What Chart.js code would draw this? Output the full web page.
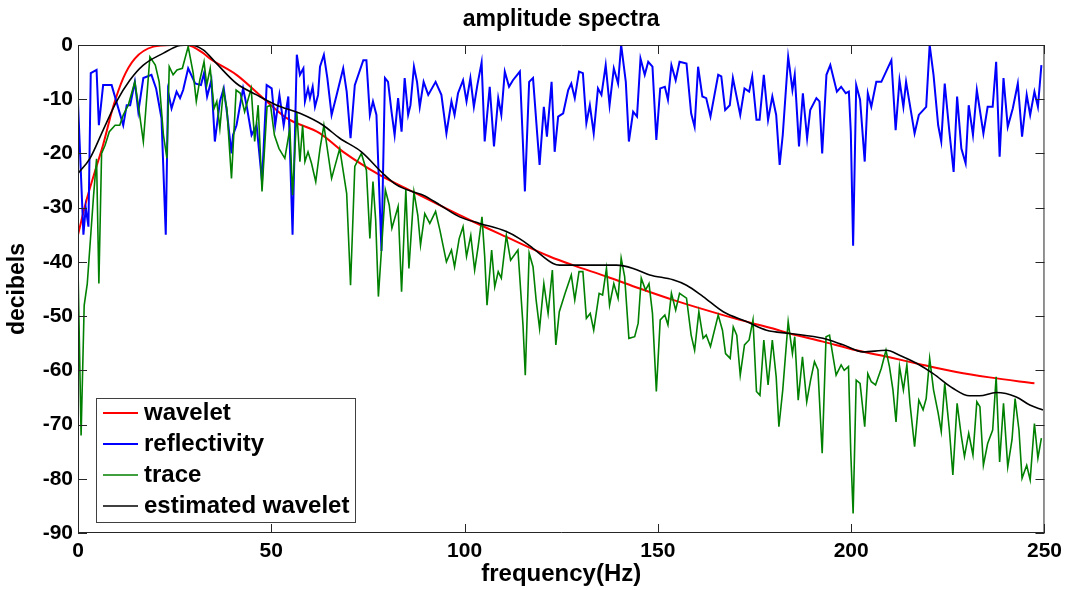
<!DOCTYPE html>
<html>
<head>
<meta charset="utf-8">
<style>
  html, body { margin: 0; padding: 0; background: #fff; }
</style>
<script src="https://cdn.jsdelivr.net/npm/chart.js@4.4.0/dist/chart.umd.min.js"></script>
</head>
<body>
<canvas id="grafico" width="1068" height="590"></canvas>
<script>
// eixos
const ticksX = [0, 50, 100, 150, 200, 250];
const ticksY = [-90, -80, -70, -60, -50, -40, -30, -20, -10, 0];
const titulo = 'amplitude spectra';

// wavelet (vermelho)
const waveletFreq = [0, 2.2, 4.3, 6.5, 9.1, 11.7, 14.7, 19.5, 24, 28.1, 32.4, 34.1, 41, 47.9, 54, 62.6, 68.6, 78.1, 86.7, 100.5, 110.8, 122, 128, 136.7, 145.3, 153.9, 162.5, 171.2, 179.8, 184.1, 192.7, 201.3, 209.9, 218.6, 227.2, 235.8, 247.4];
const waveletDb = [-35, -28.6, -23.5, -18.4, -11.4, -6.1, -2.5, -0.3, 0, 0, -1.5, -2.5, -5.5, -9.8, -13.5, -16.3, -19.7, -24, -27.1, -32, -35.4, -39.0, -40.6, -42.7, -44.9, -47, -48.9, -50.7, -52.3, -53.2, -54.7, -56.3, -57.6, -59, -60.3, -61.3, -62.4];

// reflectivity (azul)
const reflFreq = [0, 1.4, 2.0, 2.7, 3.3, 4.8, 5.4, 6.5, 8.7, 11.7, 12.6, 13.5, 14.7, 15.6, 16.9, 19.0, 20.2, 21.6, 22.7, 23.3, 24.2, 25.5, 26.4, 27.2, 28.5, 30.3, 31.8, 32.6, 33.4, 34.5, 35.4, 36.7, 37.7, 38.6, 39.7, 40.1, 41.0, 42.7, 43.6, 44.9, 46.2, 47.6, 48.8, 50.1, 51.0, 52.1, 53.2, 54.4, 55.5, 56.6,
  57.4, 58.3, 58.7, 59.5, 60.0, 60.7, 61.3, 62.1, 62.6, 63.6, 64.5, 65.6, 66.9, 68.6, 69.5, 70.5, 71.6, 73.8, 74.6, 75.5, 76.3, 77.2, 78.5, 79.4, 80.2, 81.1, 81.9, 82.8, 83.7, 84.5, 85.4, 86.0, 86.9, 87.7, 88.4, 89.4, 90.6, 92.5, 94.0, 95.3, 96.6, 97.4, 98.3, 99.6,
  100.5, 101.5, 102.4, 103.3, 104.4, 105.2, 106.5, 107.6, 108.7, 109.5, 110.4, 111.5, 112.5, 114.3, 115.0, 115.6, 116.7, 117.7, 118.8, 119.4, 120.5, 121.3, 122.5, 123.3, 124.2, 125.5, 126.8, 127.6, 128.5, 129.6, 130.6, 131.5, 132.4, 133.4, 134.5, 135.4, 136.5, 137.5, 138.6, 139.7,
  140.5, 141.7, 142.5, 143.6, 144.6, 145.5, 146.6, 147.5, 148.6, 149.6, 150.6, 151.8, 152.6, 153.5, 154.6, 155.6, 157.4, 158.6, 159.5, 160.4, 161.5, 162.5, 163.6, 165.6, 166.4, 167.4, 168.6, 169.4, 171.3, 172.4, 173.6, 174.4, 175.5, 176.3, 177.4, 178.5, 179.6, 180.6, 181.5, 182.3, 183.7,
  184.1, 184.8, 185.4, 186.5, 187.5, 188.6, 189.4, 191.0, 191.8, 192.5, 193.6, 194.6, 196.3, 197.4, 198.6, 199.4, 199.9, 200.5, 201.3, 202.3, 203.5, 204.3, 205.2, 206.5, 207.8, 210.4, 211.5, 212.5, 213.5, 214.2, 216.4, 217.5, 219.4, 220.3, 221.3, 222.5, 223.3, 224.2, 225.4, 226.5,
  227.4, 228.5, 229.6, 230.4, 231.5, 232.5, 234.2, 235.3, 236.6, 237.5, 238.4, 239.4, 240.5, 241.8, 243.1, 244.2, 245.4, 246.3, 247.4, 248.3, 249.2];
const reflDb = [-10.5, -35, -30, -33.5, -5.2, -4.6, -14.8, -7.4, -7.4, -14.8, -11.1, -11.1, -6.8, -12.3, -6.1, -5.5, -8.0, -13.5, -35, -8.6, -11.7, -8.6, -9.8, -8.3, -4.3, -7.1, -7.4, -5.2, -9.5, -6.5, -17.8, -10.4, -8.0, -12.9, -20, -16.6, -14.8, -8.0, -11.1, -16.6, -14.8, -25.2, -7.4, -8.0, -14.8, -9.2, -14.8, -9.5, -35, -1.8,
  -5.5, -4.3, -10.4, -8.0, -9.8, -7.7, -11.4, -9.2, -4.0, -1.8, -6.1, -12.9, -9.2, -4.3, -8.6, -17.2, -7.4, -2.8, -2.8, -12.9, -10.4, -12.9, -38, -6.1, -6.8, -12.3, -16.6, -9.8, -16.0, -6.1, -12.9, -11.1, -4.0, -6.8, -11.4, -6.8, -9.2, -6.8, -9.2, -16.3, -10.4, -12.9, -8.9, -6.5,
  -10.4, -6.1, -11.4, -7.4, -3.2, -17.8, -7.7, -18.7, -9.8, -12.9, -4.9, -7.7, -6.5, -4.9, -16.6, -27, -6.8, -6.1, -16.6, -22.1, -11.4, -16.9, -6.8, -19.7, -13.2, -12.6, -8.3, -7.1, -9.8, -4.9, -5.2, -14.4, -11.1, -16.3, -8.0, -9.2, -3.7, -11.1, -4.3, -7.1,
  0, -6.8, -17.8, -12.3, -13.2, -2.5, -5.5, -3.1, -4.0, -17.5, -8.0, -7.7, -10.1, -3.7, -6.5, -3.1, -3.4, -12.6, -15.1, -4.0, -9.5, -9.8, -13.2, -5.5, -5.8, -12.0, -11.1, -6.1, -12.9, -8.0, -8.6, -5.8, -13.8, -13.8, -5.5, -13.8, -9.5, -12.9, -22.1, -16.6, -2.2,
  -4.3, -8.3, -5.5, -18.7, -8.9, -17.2, -12.0, -9.8, -10.4, -20, -5.5, -3.7, -8.6, -7.7, -8.9, -8.6, -16, -37, -7.4, -10.1, -21.5, -8.9, -11.4, -6.8, -6.8, -2.8, -15.7, -6.5, -11.4, -6.8, -16.3, -12.9, -11.4, 0, -5.5, -14.8, -17.8, -7.1, -16, -23.4,
  -9.5, -19.1, -21.8, -11.1, -16.6, -8.3, -16.3, -11.4, -11.4, -3.1, -20.6, -6.1, -15.1, -11.7, -7.1, -16.9, -9.2, -12.9, -8.6, -11.4, -3.7];

// trace (verde)
const traceFreq = [0, 0.8, 1.6, 2.4, 3.2, 4.0, 4.8, 5.4, 6.1, 7.0, 8.1, 9.6, 10.8, 11.7, 13.0, 14.7, 15.6, 16.9, 18.6, 20.0, 21.0, 22.1, 23.0, 23.6, 24.6, 25.6, 27.0, 28.5, 29.8, 30.6, 31.5, 32.6, 33.3, 34.2, 35.2, 35.9, 36.7, 37.6, 38.5, 39.7, 40.9, 42.0, 43.1, 44.8, 45.7, 46.6, 47.6, 48.9, 49.8, 50.8, 52.0, 53.5, 54.8, 55.5, 56.6,
  57.4, 58.1, 58.7, 59.5, 60.4, 61.5, 62.6, 63.6, 65.6, 67.7, 69.5, 70.5, 71.6, 73.3, 74.6, 75.5, 76.3, 77.0, 77.7, 78.6, 79.5, 80.5, 81.2, 82.8, 83.7, 84.8, 85.6, 86.9, 87.9, 88.6, 89.7, 91.0, 92.5, 93.6, 95.3, 96.6, 97.4, 98.6, 99.6,
  100.5, 101.6, 102.6, 103.5, 104.5, 105.2, 105.8, 107.0, 107.8, 108.7, 109.5, 110.8, 111.9, 113.8, 115.1, 115.7, 116.7, 117.7, 118.5, 119.4, 120.5, 121.6, 122.7, 123.6, 124.5, 126.0, 127.6, 128.5, 129.6, 130.6, 131.5, 132.5, 133.4, 134.8, 135.7, 136.7, 137.5, 138.6, 139.7,
  140.5, 141.4, 142.5, 144.0, 144.9, 145.7, 146.8, 147.7, 148.6, 149.6, 150.6, 151.8, 152.6, 153.5, 154.6, 155.6, 157.4, 158.6, 159.5, 160.6, 161.7, 162.5, 163.6, 165.6, 166.7, 167.5, 168.7, 169.5, 170.4, 171.3, 172.4, 173.6, 174.6, 175.5, 176.4, 177.4, 178.5, 179.6, 180.6, 181.3, 182.3, 183.7,
  184.8, 185.4, 186.3, 187.4, 188.5, 189.5, 190.5, 191.4, 192.5, 193.5, 194.4, 196.1, 197.4, 198.2, 199.3, 199.9, 200.5, 201.3, 202.3, 203.5, 204.3, 205.2, 206.3, 207.8, 209.0, 209.9, 210.8, 211.6, 212.5, 213.5, 214.4, 215.2, 216.4, 217.5, 218.6, 219.4,
  220.3, 221.3, 222.5, 223.3, 224.2, 225.4, 226.3, 227.4, 228.5, 229.3, 230.4, 231.5, 232.5, 233.3, 234.2, 235.3, 236.6, 237.5, 238.4, 239.4, 240.5, 241.6, 242.4, 243.4, 244.2, 245.4, 246.3, 247.4, 248.3, 249.2];
const traceDb = [-41, -72, -48, -44, -36, -28, -21, -44, -20, -18.5, -16, -14.8, -14.8, -12.9, -11.1, -6.8, -11.1, -17.8, -2.2, -3.7, -6.8, -16.6, -20.9, -4.0, -5.5, -4.6, -4.3, -0.3, -5.2, -10.4, -6.5, -3.1, -7.4, -4.3, -11.7, -10.4, -15.4, -8.3, -11.7, -24.6, -8.3, -8.9, -12.3, -8.0, -17.8, -11.1, -27, -11.4, -11.1, -16.6, -19.1, -20.9, -15.4, -27.7, -12.3,
  -21.5, -14.8, -21.5, -19.7, -21.8, -25.2, -19.1, -14.8, -24.6, -19.1, -27.4, -44.3, -22.4, -20, -23.1, -35.7, -25.2, -32.3, -46.4, -36.6, -26.7, -29.5, -33.8, -29.8, -45.5, -26.7, -41.2, -27.1, -31.4, -36.9, -31.1, -32.9, -30.7, -34.1, -40, -37.8, -40.9, -35.7, -33.5,
  -39, -35.1, -41.5, -37.2, -31.7, -39, -48, -37.8, -44.6, -41.8, -43, -35.1, -39.7, -37.8, -51.6, -60.9, -38.4, -40.9, -47, -52.3, -44, -49.5, -41.5, -55.3, -49.2, -45.8, -42.4, -47, -41.8, -41.8, -50.4, -49.5, -52.6, -45.8, -46.1, -41.2, -48, -44, -46.7,
  -39.3, -42.7, -54.1, -53.8, -51.3, -43, -45.2, -44, -49.5, -63.9, -50.7, -49.8, -51.6, -45.8, -48.9, -45.8, -46.7, -53.5, -56.3, -49.2, -54.1, -53.5, -55.6, -49.8, -52.6, -56.9, -57.8, -52, -53.5, -60.9, -55.3, -54.4, -50.7, -63.9, -64.6, -54.4, -62.7, -54.4, -61.2, -70.4, -63.6, -51,
  -56.9, -53.8, -65.5, -57.5, -65.8, -61.8, -58.4, -59.9, -75.3, -53.8, -53.5, -60.9, -59, -60, -59.3, -75.3, -86.4, -61.8, -62.4, -70.4, -60.6, -62.1, -62.7, -59.6, -56.3, -59.3, -63.6, -69.5, -59.3, -63.6, -59, -66.1, -74.1, -65.5, -67.3, -65.2,
  -57.8, -63.6, -67.9, -71.3, -62.4, -71, -79.3, -66.1, -72.2, -75.9, -71.6, -75.6, -65.8, -66.7, -77.5, -73.5, -71, -61.2, -76.9, -66.1, -77.8, -72.8, -65.2, -71, -79.9, -77.5, -80.2, -69.8, -76.2, -72.5];

// estimated wavelet (preto)
const estFreq = [0, 3.1, 6.5, 10, 13.4, 16.9, 22.1, 26.4, 29, 32.4, 35.8, 41, 46.2, 51.4, 57.4, 63.4, 67.7, 73.3, 78.9, 82.4, 86.7, 89.3, 93.6, 98.7, 103.9, 110.8, 114.2, 117.7, 122.9, 124.6, 139.3, 143.6, 147.9, 153.9, 157.4, 161.7, 166.9, 172.9, 178.1, 184.1, 192.7, 197.9, 203.1, 209.1, 212.5, 216.9, 221.2, 226.3, 230.6, 233.2, 237.5, 242.7, 246.2, 249.6];
const estDb = [-23.7, -20.9, -15.7, -10.4, -6.5, -3.7, -1.5, -0.1, 0, -0.9, -3.4, -7.1, -9.2, -11.1, -12.6, -14.8, -17.2, -19.7, -23.7, -25.8, -27.1, -27.7, -29.5, -31.7, -32.9, -34.4, -35.7, -37.5, -40.3, -40.6, -40.6, -41.2, -42.4, -43.3, -44.3, -46.4, -49.2, -51, -52.6, -53.2, -54.1, -55.3, -56.6, -56.3, -57.2, -58.7, -60.6, -63.3, -64.7, -64.7, -64.1, -64.9, -66.4, -67.3];

const fonte = "'Liberation Sans', Arial, sans-serif";

function pares(xs, ys) {
    return xs.map((f, i) => ({ x: f, y: ys[i] }));
}

// moldura com ticks para dentro, estilo matlab
const molduraPlugin = {
    id: 'moldura',
    afterDatasetsDraw(chart) {
        const { ctx, chartArea: a, scales } = chart;
        const tam = 9;
        ctx.save();
        ctx.strokeStyle = '#262626';
        ctx.lineWidth = 1;
        ctx.beginPath();
        ctx.rect(a.left + 0.5, a.top + 0.5, a.right - a.left - 1, a.bottom - a.top - 1);
        ticksX.forEach(v => {
            const px = Math.round(scales.x.getPixelForValue(v)) + 0.5;
            ctx.moveTo(px, a.bottom); ctx.lineTo(px, a.bottom - tam);
            ctx.moveTo(px, a.top); ctx.lineTo(px, a.top + tam);
        });
        ticksY.forEach(v => {
            const py = Math.round(scales.y.getPixelForValue(v)) + 0.5;
            ctx.moveTo(a.left, py); ctx.lineTo(a.left + tam, py);
            ctx.moveTo(a.right, py); ctx.lineTo(a.right - tam, py);
        });
        ctx.stroke();
        ctx.restore();
    }
};

// titulo centrado sobre a area do grafico
const tituloPlugin = {
    id: 'tituloCentro',
    afterDraw(chart) {
        const { ctx, chartArea: a } = chart;
        ctx.save();
        ctx.font = 'bold 23px ' + fonte;
        ctx.fillStyle = '#000';
        ctx.textAlign = 'center';
        ctx.textBaseline = 'middle';
        ctx.fillText(titulo, (a.left + a.right) / 2, 20);
        ctx.restore();
    }
};

// legenda dentro da area do grafico, canto inferior esquerdo
const legendaPlugin = {
    id: 'legendaInterna',
    afterDraw(chart) {
        const { ctx, chartArea: a } = chart;
        const x0 = a.left + 18, y0 = a.bottom - 135, w = 259, h = 124;
        ctx.save();
        ctx.fillStyle = '#fff';
        ctx.fillRect(x0, y0, w, h);
        ctx.strokeStyle = '#404040';
        ctx.lineWidth = 1;
        ctx.strokeRect(x0 + 0.5, y0 + 0.5, w, h);
        ctx.font = 'bold 24px ' + fonte;
        ctx.textBaseline = 'middle';
        ctx.textAlign = 'left';
        chart.data.datasets.forEach((ds, i) => {
            const yy = y0 + 15 + i * 31;
            ctx.strokeStyle = ds.borderColor;
            ctx.lineWidth = ds.borderWidth;
            ctx.beginPath();
            ctx.moveTo(x0 + 7, yy); ctx.lineTo(x0 + 42, yy);
            ctx.stroke();
            ctx.fillStyle = '#000';
            ctx.fillText(ds.label, x0 + 48, yy);
        });
        ctx.restore();
    }
};

const ctx = document.getElementById('grafico').getContext('2d');
Chart.defaults.color = '#000';

new Chart(ctx, {
    type: 'line',
    data: {
        datasets: [
            { label: 'wavelet', data: pares(waveletFreq, waveletDb), borderColor: '#ff0000', borderWidth: 2, order: 3, cubicInterpolationMode: 'monotone' },
            { label: 'reflectivity', data: pares(reflFreq, reflDb), borderColor: '#0000ff', borderWidth: 2, order: 2 },
            { label: 'trace', data: pares(traceFreq, traceDb), borderColor: '#008000', borderWidth: 1.6, order: 1 },
            { label: 'estimated wavelet', data: pares(estFreq, estDb), borderColor: '#000000', borderWidth: 1.6, order: 0, cubicInterpolationMode: 'monotone' }
        ]
    },
    options: {
        responsive: false,
        animation: false,
        layout: { padding: { left: 0, right: 23, top: 45, bottom: 0 } },
        elements: { point: { radius: 0 }, line: { tension: 0, fill: false } },
        plugins: {
            legend: { display: false },
            tooltip: { enabled: false },
            title: { display: false }
        },
        scales: {
            x: {
                type: 'linear',
                min: 0,
                max: 250,
                border: { display: false },
                grid: { display: false, drawTicks: false },
                afterBuildTicks: s => { s.ticks = ticksX.map(v => ({ value: v })); },
                afterFit: s => { s.height = 57; },
                ticks: { font: { family: fonte, size: 21, weight: 'bold' }, padding: 6, maxRotation: 0, color: '#000' },
                title: { display: true, text: 'frequency(Hz)', font: { family: fonte, size: 24, weight: 'bold', lineHeight: 1.2 }, padding: { top: 0, bottom: 1 }, color: '#000' }
            },
            y: {
                type: 'linear',
                min: -90,
                max: 0,
                border: { display: false },
                grid: { display: false, drawTicks: false },
                afterBuildTicks: s => { s.ticks = ticksY.map(v => ({ value: v })); },
                afterFit: s => { s.width = 78; },
                ticks: { font: { family: fonte, size: 21, weight: 'bold' }, padding: 5, color: '#000' },
                title: { display: true, text: 'decibels', font: { family: fonte, size: 23, weight: 'bold', lineHeight: 1.2 }, padding: { top: 4, bottom: 0 }, color: '#000' }
            }
        }
    },
    plugins: [molduraPlugin, tituloPlugin, legendaPlugin]
});
</script>
</body>
</html>
